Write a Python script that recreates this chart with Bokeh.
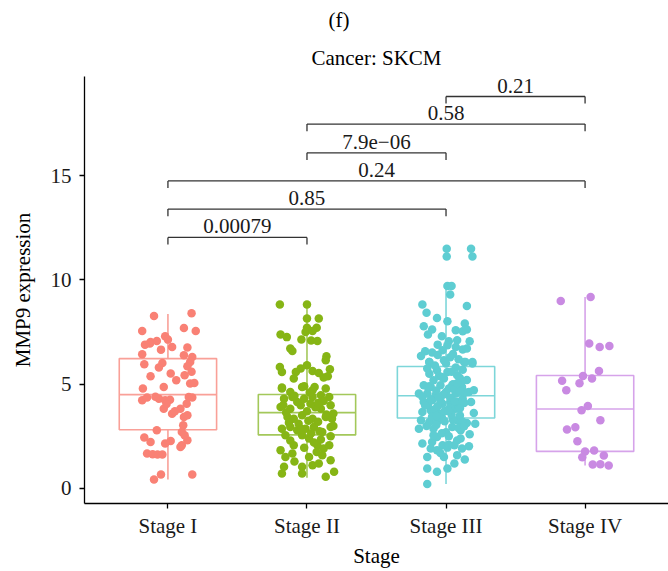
from bokeh.plotting import figure
from bokeh.models import Range1d, FixedTicker, Title
from bokeh.embed import file_html
from bokeh.resources import INLINE
from bokeh.core.properties import value

FONT = "Liberation Serif"
FS = "21px"

stages = ["Stage I", "Stage II", "Stage III", "Stage IV"]
point_colors = ["#F98175", "#86B515", "#5ECDD2", "#C98AE2"]
box_colors = ["#F9A098", "#A3C85A", "#7DD6D9", "#D6A3EA"]

# box statistics
w_low = [0.43, 0.52, 0.21, 1.10]
q1 = [2.82, 2.57, 3.38, 1.78]
med = [4.50, 3.64, 4.45, 3.81]
q3 = [6.23, 4.51, 5.85, 5.42]
w_high = [8.37, 8.83, 9.71, 9.18]

# jittered points: value and horizontal jitter
s1_y = [8.27, 8.41, 7.55, 7.70, 7.55, 7.30, 7.02, 7.07, 6.66, 7.14, 6.79, 6.76, 6.44, 5.96,
        6.02, 6.39, 6.31, 6.07, 5.86, 5.38, 5.80, 5.51, 5.19, 5.43, 5.03, 5.06, 4.79, 4.23,
        4.36, 4.31, 4.87, 4.23, 4.26, 3.59, 3.83, 3.83, 4.07, 4.39, 4.36, 3.43, 3.51, 3.03,
        2.79, 2.71, 2.44, 2.23, 2.16, 2.28, 2.07, 2.31, 1.68, 1.64, 1.63, 1.63, 1.99, 0.67,
        0.67, 0.43, 6.95, 4.40, 3.70, 2.55, 6.90, 5.60, 4.05]
s1_dx = [-0.10, 0.17, -0.185, 0.115, 0.20, -0.02, -0.125, -0.08, -0.05, 0.0, 0.03, 0.14, -0.185, -0.17,
         -0.04, 0.115, 0.175, 0.16, 0.14, -0.125, -0.065, 0.02, 0.06, 0.12, 0.16, 0.19, -0.18, -0.185,
         -0.15, -0.065, -0.03, -0.02, 0.015, 0.03, -0.03, 0.09, 0.135, 0.15, 0.175, 0.115, 0.14, 0.11,
         -0.08, 0.10, -0.17, -0.125, -0.02, 0.02, 0.10, 0.14, -0.15, -0.11, -0.075, -0.04, 0.09, 0.175,
         -0.05, -0.10, -0.13, -0.09, 0.05, 0.12, -0.165, 0.17, -0.01]

s2_y = [8.83, 8.83, 8.15, 8.15, 7.71, 7.71, 7.50, 7.55, 7.39, 7.26, 7.15, 7.10, 7.07, 6.71,
        6.59, 6.34, 6.15, 5.83, 5.59, 5.91, 5.75, 5.59, 5.64, 5.54, 5.72, 5.27, 5.32, 5.38,
        4.84, 4.90, 4.87, 4.79, 4.63, 4.87, 4.71, 4.79, 4.31, 4.39, 4.31, 4.39, 4.47, 4.39,
        3.91, 3.83, 3.99, 4.07, 3.83, 3.99, 3.43, 3.35, 3.51, 3.35, 3.43, 3.35, 2.87, 2.95,
        2.79, 2.87, 2.95, 2.71, 2.95, 2.55, 2.55, 2.40, 2.07, 2.07, 1.92, 2.07, 1.84, 1.68,
        1.51, 1.51, 1.36, 1.04, 1.04, 1.12, 1.20, 0.72, 0.72, 0.56, 0.80,
        3.10, 3.20, 3.65, 3.70, 4.15, 4.20, 2.65, 2.30, 3.00, 4.00, 3.55, 2.20, 1.75, 1.30,
        2.50, 4.60, 3.90, 3.15, 2.75, 4.45, 3.60, 2.35, 1.95, 4.10, 3.25, 2.85, 1.60]
s2_dx = [-0.195, 0.0, 0.0, 0.085, 0.0, 0.07, -0.01, 0.04, -0.19, -0.145, -0.04, 0.03, 0.075, -0.12,
         -0.105, 0.14, 0.135, -0.195, -0.18, 0.0, -0.045, -0.08, 0.04, 0.085, 0.165, -0.095, 0.12, 0.15,
         -0.18, -0.02, 0.055, -0.18, -0.12, -0.035, 0.04, 0.135, -0.165, -0.105, -0.02, 0.04, 0.10, 0.16,
         -0.19, -0.12, -0.045, 0.025, 0.10, 0.17, -0.14, -0.095, -0.035, 0.04, 0.135, 0.18, -0.18, -0.12,
         -0.07, -0.01, 0.05, 0.11, 0.17, -0.155, -0.035, 0.015, -0.095, 0.075, 0.12, 0.16, -0.19, -0.105,
         -0.155, 0.015, 0.17, -0.165, -0.035, 0.04, 0.085, -0.18, -0.035, 0.135, 0.195,
         -0.06, 0.08, -0.15, 0.0, -0.07, 0.12, 0.03, -0.12, 0.19, -0.17, 0.14, 0.05, 0.07, -0.09,
         0.17, 0.02, 0.06, -0.13, 0.09, -0.09, 0.19, 0.10, -0.02, 0.08, 0.01, -0.04, 0.11]

s3_y = [11.50, 11.50, 11.13, 11.13, 9.71, 9.71, 9.30, 8.83, 8.75, 8.43, 8.18, 8.02, 7.78, 7.91,
        7.62, 7.38, 7.59, 7.54, 7.62, 7.06, 7.11, 7.06, 6.87, 6.79, 6.67, 6.63, 6.58, 6.52,
        6.35, 6.71, 6.15, 6.07, 6.07, 6.07, 6.07, 5.99, 6.07, 5.99, 5.75, 5.67, 5.59, 5.43,
        5.19, 5.27, 4.95, 4.87, 4.95, 4.95, 4.87, 4.55, 4.55, 4.47, 4.63, 4.55, 4.63, 4.71,
        4.15, 4.23, 4.07, 4.15, 4.15, 4.15, 3.67, 3.75, 3.59, 3.75, 3.83, 3.62, 3.27, 3.19,
        3.19, 3.27, 3.14, 3.11, 2.87, 2.87, 2.95, 2.79, 2.47, 2.40, 2.16, 2.23, 2.07, 2.07,
        1.92, 1.84, 1.96, 1.92, 2.03, 1.51, 1.51, 1.39, 0.96, 0.80, 0.96, 0.21,
        5.20, 5.00, 4.70, 4.30, 4.00, 3.90, 3.50, 3.40, 3.00, 2.70, 2.60, 5.50, 5.30, 4.80,
        4.40, 3.80, 3.30, 2.30, 1.70, 1.20, 6.30, 5.80, 4.60, 4.20,
        6.40, 6.20, 5.90, 5.60, 5.40, 5.10, 4.90, 4.75, 4.50, 4.35, 4.25, 4.10, 3.95, 3.85,
        3.70, 3.55, 3.45, 3.20, 3.05, 2.90, 2.65, 2.50, 5.70, 5.35, 5.05, 4.85, 4.65, 4.38,
        4.18, 3.98, 3.72, 3.48, 3.22, 2.98, 2.55, 2.10, 1.60, 7.30, 6.90, 6.45]
s3_dx = [0.005, 0.18, 0.005, 0.19, 0.01, 0.04, 0.03, -0.17, 0.15, -0.14, -0.065, 0.01, -0.16, 0.135,
         -0.10, -0.13, 0.07, 0.12, 0.15, 0.02, 0.08, 0.17, 0.01, 0.07, 0.12, -0.025, -0.15, -0.10,
         -0.18, 0.15, -0.015, -0.12, 0.13, 0.19, -0.12, 0.0, 0.14, 0.19, -0.135, -0.065, 0.01, 0.08,
         -0.09, -0.015, -0.16, -0.11, -0.04, 0.045, 0.115, -0.195, -0.135, -0.075, 0.0, 0.07, 0.165, 0.20,
         -0.16, -0.10, -0.025, 0.03, 0.09, 0.18, -0.17, -0.11, -0.05, 0.01, 0.07, 0.20, -0.18, -0.12,
         -0.065, 0.08, 0.15, 0.21, -0.195, -0.09, 0.045, 0.105, -0.065, 0.105, -0.17, -0.10, -0.025, 0.06,
         -0.11, -0.065, 0.01, 0.115, 0.165, -0.015, -0.135, 0.135, -0.135, -0.065, 0.01, -0.135,
         0.15, 0.05, -0.07, 0.12, -0.13, 0.03, 0.10, -0.03, -0.14, 0.0, 0.17, -0.12, 0.10, 0.02,
         -0.17, -0.08, 0.05, 0.08, -0.04, 0.06, 0.03, 0.07, 0.14, -0.04,
         -0.06, 0.09, -0.08, 0.04, -0.05, 0.11, -0.12, 0.06, -0.02, 0.03, -0.11, 0.13, -0.06, 0.10,
         -0.01, 0.04, -0.10, 0.12, -0.07, 0.09, -0.03, 0.02, 0.12, -0.03, 0.08, -0.13, 0.10, -0.05,
         0.06, -0.15, 0.02, -0.07, -0.01, 0.13, -0.09, 0.02, 0.08, -0.03, -0.06, 0.05]

s4_y = [8.99, 9.18, 6.95, 6.79, 6.83, 5.64, 5.40, 5.27, 5.17, 5.05, 4.71, 3.96, 3.75, 3.27,
        2.83, 2.94, 2.27, 1.77, 1.82, 1.50, 1.58, 1.15, 1.16, 1.10]
s4_dx = [-0.175, 0.04, 0.03, 0.105, 0.175, 0.10, -0.015, 0.05, -0.165, -0.04, -0.135, 0.02, -0.025, 0.11,
         -0.13, -0.07, -0.055, 0.0, 0.065, -0.02, 0.135, 0.055, 0.11, 0.17]

# pairwise comparison brackets
br_from = [1, 1, 1, 2, 2, 3]
br_to = [2, 3, 4, 3, 4, 4]
br_y = [12.04, 13.40, 14.75, 16.10, 17.48, 18.80]
br_label = ["0.00079", "0.85", "0.24", "7.9e\u221206", "0.58", "0.21"]

y_ticks = [0, 5, 10, 15]

p = figure(width=668, height=571, output_backend="svg", toolbar_location=None,
           x_range=Range1d(0.4, 4.6), y_range=Range1d(-0.72, 19.76),
           min_border_left=84, min_border_right=0, min_border_top=76, min_border_bottom=68)
p.outline_line_color = None
p.xgrid.visible = False
p.ygrid.visible = False
p.background_fill_color = "white"
p.border_fill_color = "white"

# boxes
BW = 0.35
for i in range(4):
    xc = i + 1
    p.quad(left=[xc - BW], right=[xc + BW], bottom=[q1[i]], top=[q3[i]],
           fill_color=None, line_color=box_colors[i], line_width=1.6)
    p.segment(x0=[xc - BW], x1=[xc + BW], y0=[med[i]], y1=[med[i]],
              line_color=box_colors[i], line_width=1.6)
    p.segment(x0=[xc, xc], x1=[xc, xc], y0=[q3[i], q1[i]], y1=[w_high[i], w_low[i]],
              line_color=box_colors[i], line_width=1.6)

# points
for i, (ys, dxs) in enumerate([(s1_y, s1_dx), (s2_y, s2_dx), (s3_y, s3_dx), (s4_y, s4_dx)]):
    xs = [i + 1 + d for d in dxs]
    p.scatter(x=xs, y=ys, size=8.5, fill_color=point_colors[i], line_color=None)

# brackets
DROP = 0.34
p.segment(x0=br_from, x1=br_to, y0=br_y, y1=br_y, line_color="#333333", line_width=1.3)
p.segment(x0=br_from, x1=br_from, y0=br_y, y1=[y - DROP for y in br_y], line_color="#333333", line_width=1.3)
p.segment(x0=br_to, x1=br_to, y0=br_y, y1=[y - DROP for y in br_y], line_color="#333333", line_width=1.3)
p.text(x=[(a + b) / 2 for a, b in zip(br_from, br_to)], y=br_y, text=br_label,
       text_font=value(FONT), text_font_size=FS, text_align="center",
       text_baseline="middle", y_offset=-11, text_color="#1a1a1a")

# axes
for ax in (p.xaxis, p.yaxis):
    ax.axis_line_color = "black"
    ax.axis_line_width = 1.3
    ax.major_tick_line_color = "black"
    ax.major_tick_line_width = 1.3
    ax.major_tick_in = 0
    ax.major_tick_out = 5
    ax.minor_tick_line_color = None
    ax.major_label_text_font = FONT
    ax.major_label_text_font_size = FS
    ax.major_label_text_color = "#1a1a1a"
    ax.axis_label_text_font = FONT
    ax.axis_label_text_font_size = FS
    ax.axis_label_text_font_style = "normal"
    ax.axis_label_text_color = "black"

p.xaxis.ticker = FixedTicker(ticks=[1, 2, 3, 4])
p.xaxis.major_label_overrides = {i + 1: s for i, s in enumerate(stages)}
p.xaxis.axis_label = "Stage"
p.xaxis.major_label_standoff = 5
p.xaxis.axis_label_standoff = 3
p.yaxis.ticker = FixedTicker(ticks=y_ticks)
p.yaxis.axis_label = "MMP9 expression"
p.yaxis.major_label_standoff = 8
p.yaxis.axis_label_standoff = 13

# titles
p.add_layout(Title(text="Cancer: SKCM", align="center", text_font=FONT, text_font_size=FS,
                   text_font_style="normal", text_color="black", standoff=14), "above")
p.add_layout(Title(text="(f)", align="left", offset=244, text_font=FONT, text_font_size=FS,
                   text_font_style="normal", text_color="black", standoff=9), "above")

open("out.html", "w").write(file_html(p, INLINE))
